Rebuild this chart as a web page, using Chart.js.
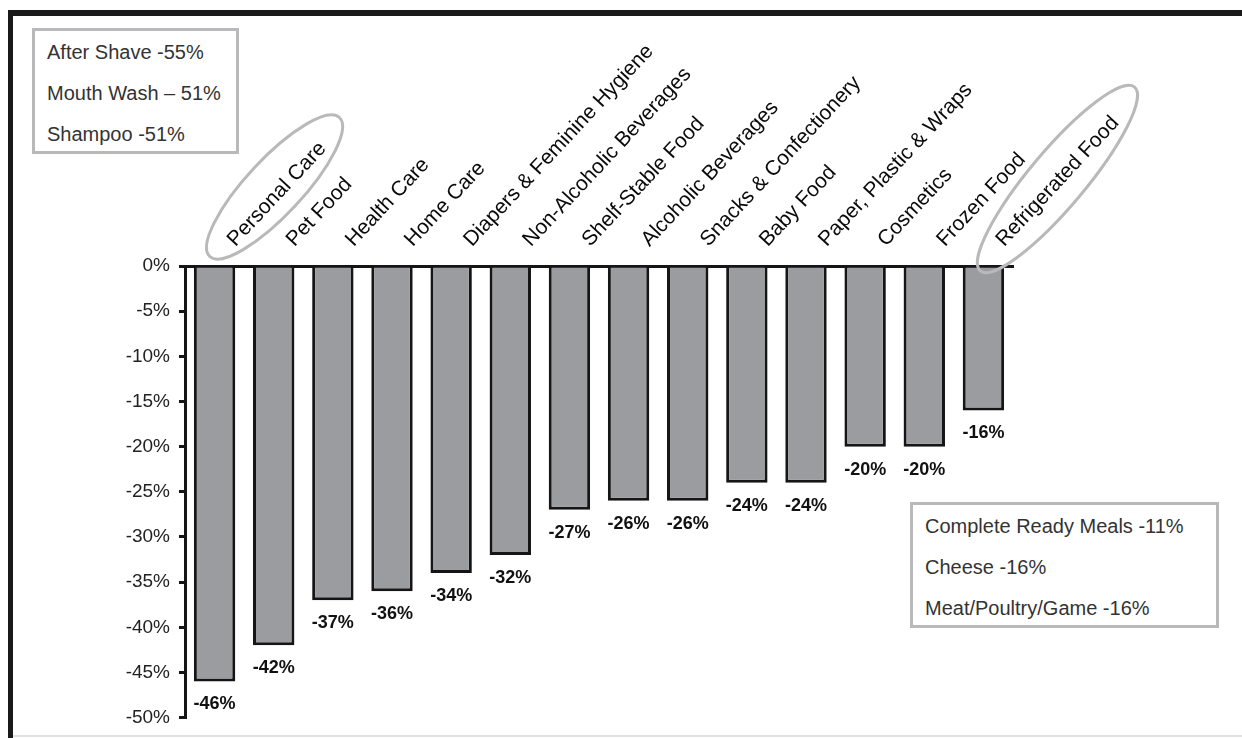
<!DOCTYPE html>
<html>
<head>
<meta charset="utf-8">
<script src="https://cdn.jsdelivr.net/npm/chart.js@4/dist/chart.umd.min.js"></script>
<style>
  html, body { margin: 0; padding: 0; background: #fff; }
  body { width: 1242px; height: 738px; position: relative; overflow: hidden; font-family: "Liberation Sans", Arial, sans-serif; }
  #wrap { position: absolute; left: 0; top: 0; width: 1242px; height: 738px; }
  .frame-top { position: absolute; left: 8px; top: 10px; width: 1234px; height: 6px; background: #1a1a1a; }
  .frame-left { position: absolute; left: 8px; top: 10px; width: 5px; height: 728px; background: #1a1a1a; }
  .frame-bottom { position: absolute; left: 13px; top: 735px; width: 1229px; height: 2px; background: #e2e2e2; }
  .note { position: absolute; border: 3px solid #b9b9bb; background: #fff; color: #333; font-size: 20px; box-sizing: border-box; }
  .note div { position: absolute; left: 12px; white-space: nowrap; line-height: 22px; }
</style>
</head>
<body>
<div id="wrap"><canvas id="chart" width="1242" height="738"></canvas></div>
<div class="frame-top"></div>
<div class="frame-left"></div>
<div class="frame-bottom"></div>
<div class="note" id="noteLeft" style="left:32px; top:28px; width:207px; height:126px;"></div>
<div class="note" id="noteRight" style="left:910px; top:502px; width:309px; height:126px;"></div>
<script>
// Category change, %
const categories = [
  'Personal Care', 'Pet Food', 'Health Care', 'Home Care',
  'Diapers & Feminine Hygiene', 'Non-Alcoholic Beverages', 'Shelf-Stable Food',
  'Alcoholic Beverages', 'Snacks & Confectionery', 'Baby Food',
  'Paper, Plastic & Wraps', 'Cosmetics', 'Frozen Food', 'Refrigerated Food'
]
const changes = [-46, -42, -37, -36, -34, -32, -27, -26, -26, -24, -24, -20, -20, -16]
const yMin = -50
const yMax = 0
const yStep = 5

// Callout boxes
const personalCareNotes = ['After Shave -55%', 'Mouth Wash \u2013 51%', 'Shampoo -51%']
const refrigeratedNotes = ['Complete Ready Meals -11%', 'Cheese -16%', 'Meat/Poultry/Game -16%']
const circledCategories = ['Personal Care', 'Refrigerated Food']

function fillNote(id, lines) {
  const box = document.getElementById(id)
  lines.forEach((txt, i) => {
    const d = document.createElement('div')
    d.textContent = txt
    d.style.top = (10 + i * 41) + 'px'
    box.appendChild(d)
  })
}
fillNote('noteLeft', personalCareNotes)
fillNote('noteRight', refrigeratedNotes)

const FONT = '"Liberation Sans", Arial, sans-serif'

// value labels under each bar
const valueLabels = {
  id: 'valueLabels',
  afterDatasetsDraw(chart) {
    const ctx = chart.ctx
    const meta = chart.getDatasetMeta(0)
    ctx.save()
    ctx.font = 'bold 18px ' + FONT
    ctx.fillStyle = '#111'
    ctx.textAlign = 'center'
    ctx.textBaseline = 'middle'
    meta.data.forEach((bar, i) => {
      ctx.fillText(changes[i] + '%', bar.x, bar.y + 23)
    })
    ctx.restore()
  }
}

// grey ellipses around the highlighted category labels
const labelRings = {
  id: 'labelRings',
  afterDraw(chart) {
    const ctx = chart.ctx
    const x = chart.scales.x
    const top = chart.chartArea.top
    const rings = {
      'Personal Care': { dx: 60, dy: -79, rx: 95, ry: 28, rot: -47 },
      'Refrigerated Food': { dx: 74, dy: -87, rx: 120, ry: 28, rot: -50 }
    }
    ctx.save()
    ctx.strokeStyle = '#b9b9bb'
    ctx.lineWidth = 3
    circledCategories.forEach(name => {
      const r = rings[name]
      const px = x.getPixelForValue(categories.indexOf(name))
      ctx.beginPath()
      ctx.ellipse(px + r.dx, top + r.dy, r.rx, r.ry, r.rot * Math.PI / 180, 0, Math.PI * 2)
      ctx.stroke()
    })
    ctx.restore()
  }
}

new Chart(document.getElementById('chart'), {
  type: 'bar',
  data: {
    labels: categories,
    datasets: [{
      data: changes,
      backgroundColor: '#9b9c9f',
      borderColor: '#151515',
      borderWidth: 3,
      borderSkipped: 'start',
      barPercentage: 0.7,
      categoryPercentage: 1
    }]
  },
  options: {
    responsive: false,
    animation: false,
    layout: { padding: { left: 0, top: 0, right: 229, bottom: 12 } },
    plugins: {
      legend: { display: false },
      tooltip: { enabled: false }
    },
    scales: {
      x: {
        position: 'top',
        z: 1,
        afterFit(scale) { scale.height = 266 },
        grid: { display: false, drawTicks: false },
        border: { display: true, width: 3, color: '#151515' },
        ticks: {
          autoSkip: false,
          minRotation: 47,
          maxRotation: 47,
          padding: 14,
          labelOffset: 35,
          color: '#0a0a0a',
          font: { family: FONT, size: 21 }
        }
      },
      y: {
        min: yMin,
        max: yMax,
        afterFit(scale) { scale.width = 185 },
        grid: { drawOnChartArea: false, drawTicks: true, tickLength: 6, lineWidth: 3, color: '#151515' },
        border: { display: true, width: 3, color: '#151515' },
        ticks: {
          stepSize: yStep,
          padding: 9,
          color: '#222',
          font: { family: FONT, size: 19 },
          callback: v => v + '%'
        }
      }
    }
  },
  plugins: [valueLabels, labelRings]
})
</script>
</body>
</html>
